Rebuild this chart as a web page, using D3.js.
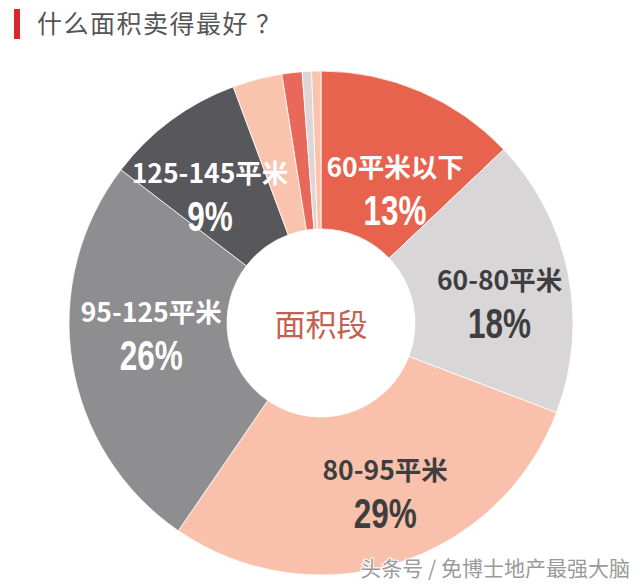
<!DOCTYPE html>
<html>
<head>
<meta charset="utf-8">
<script src="https://cdn.jsdelivr.net/npm/d3@7"></script>
<style>
  body { margin: 0; background: #fff; }
  svg { display: block; }
</style>
</head>
<body>
<script>
// 面积段 share (%)
var labels = ["60平米以下", "60-80平米", "80-95平米", "95-125平米", "125-145平米", "", "", "", ""];
var shares = [13, 18, 29, 26, 9, 3.2, 1.3, 0.6, 0.6];
var pctText = ["13%", "18%", "29%", "26%", "9%", "", "", "", ""];
var colors = ["#e8634e", "#d8d6d7", "#f9c1ab", "#8e8d8f", "#58575b", "#f9c3ae", "#e8695a", "#ddd5d6", "#f9c3ae"];
var textColors = ["#fff", "#3e3e3e", "#3e3e3e", "#fff", "#fff", "#fff", "#fff", "#fff", "#fff"];
// label placement tweaks (px) off the arc centroid
var labelNudge = [[5, 26], [7, 12], [12, 1], [3, -17], [-7, 12], [0, 0], [0, 0], [0, 0], [0, 0]];

var svgWidth = 640;
var svgHeight = 588;
var cx = 321, cy = 323;
var outerR = 252, innerR = 94;

var svg = d3.select("body")
  .append("svg")
  .attr("width", svgWidth)
  .attr("height", svgHeight);

// title
svg.append("rect")
  .attr("x", 14).attr("y", 9)
  .attr("width", 6).attr("height", 30)
  .attr("fill", "#d8262f");

svg.append("text")
  .attr("x", 37).attr("y", 33)
  .style("font-family", "'Noto Sans CJK SC', sans-serif")
  .style("font-size", "25px")
  .style("letter-spacing", "1.5px")
  .attr("fill", "#555")
  .text("什么面积卖得最好 ？");

var pie = d3.pie().sort(null).value(d => d);
var arcs = pie(shares);

var arc = d3.arc().innerRadius(innerR).outerRadius(outerR);
var labelArc = d3.arc().innerRadius(175).outerRadius(175);

var chartGroup = svg.append("g")
  .attr("transform", `translate(${cx}, ${cy})`);

chartGroup.selectAll("path")
  .data(arcs)
  .enter()
  .append("path")
  .attr("d", arc)
  .attr("fill", (d, i) => colors[i])
  .attr("stroke", "#fff")
  .attr("stroke-width", 0.8);

// slice labels
var lab = chartGroup.selectAll("g.lab")
  .data(arcs.filter((d, i) => labels[i] !== ""))
  .enter()
  .append("g")
  .attr("class", "lab")
  .attr("transform", function(d) {
    var c = labelArc.centroid(d);
    var n = labelNudge[d.index];
    return `translate(${c[0] + n[0]}, ${c[1] + n[1]})`;
  });

lab.append("text")
  .attr("text-anchor", "middle")
  .attr("y", -11)
  .style("font-family", "'Noto Sans CJK SC', sans-serif")
  .style("font-weight", "bold")
  .style("font-size", "26.5px")
  .attr("fill", d => textColors[d.index])
  .text(d => labels[d.index]);

lab.append("text")
  .attr("text-anchor", "middle")
  .attr("transform", "translate(0, 37) scale(0.75, 1)")
  .style("font-family", "'Liberation Sans', Arial, sans-serif")
  .style("font-weight", "bold")
  .style("font-size", "42px")
  .attr("fill", d => textColors[d.index])
  .text(d => pctText[d.index]);

// center
chartGroup.append("text")
  .attr("text-anchor", "middle")
  .attr("y", 13)
  .style("font-family", "'Noto Sans CJK SC', sans-serif")
  .style("font-size", "31px")
  .attr("fill", "#c4604f")
  .text("面积段");

// watermark
svg.append("text")
  .attr("x", 630).attr("y", 576)
  .attr("text-anchor", "end")
  .style("font-family", "'Noto Sans CJK SC', sans-serif")
  .style("font-size", "21px")
  .attr("fill", "#9a9a9a")
  .attr("stroke", "#fff")
  .attr("stroke-width", 2)
  .attr("paint-order", "stroke")
  .text("头条号 / 免博士地产最强大脑");
</script>
</body>
</html>
